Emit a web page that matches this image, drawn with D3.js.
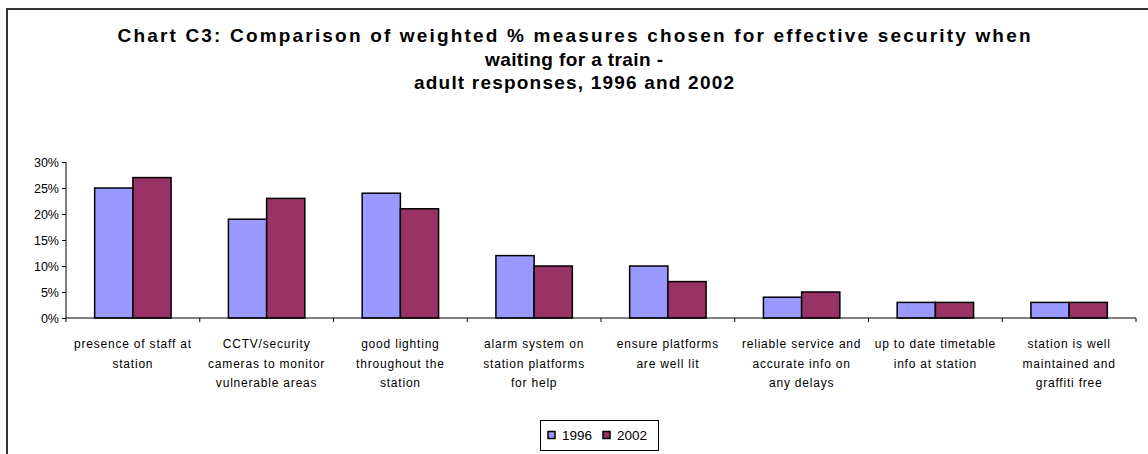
<!DOCTYPE html>
<html><head><meta charset="utf-8">
<script src="https://cdn.jsdelivr.net/npm/d3@7"></script>
<style>body{margin:0;background:#fff}svg{display:block}</style>
</head><body>
<svg id="c" width="1148" height="454"></svg>
<script>
const categories = [
  ["presence of staff at", "station"],
  ["CCTV/security", "cameras to monitor", "vulnerable areas"],
  ["good lighting", "throughout the", "station"],
  ["alarm system on", "station platforms", "for help"],
  ["ensure platforms", "are well lit"],
  ["reliable service and", "accurate info on", "any delays"],
  ["up to date timetable", "info at station"],
  ["station is well", "maintained and", "graffiti free"]
];
const seriesNames = ["1996", "2002"];
const values1996 = [25, 19, 24, 12, 10, 4, 3, 3];
const values2002 = [27, 23, 21, 10, 7, 5, 3, 3];
const yTicks = [0, 5, 10, 15, 20, 25, 30];
const titleLines = [
  "Chart C3: Comparison of weighted % measures chosen for effective security when",
  "waiting for a train -",
  "adult responses, 1996 and 2002"
];
const titleWidths = [913, 178, 320];
const colors = ["#9999FF", "#993366"];

const svg = d3.select("#c");
const font = "Liberation Sans, Arial, sans-serif";

// outer frame (top & left visible)
svg.append("path").attr("d", "M7,1148 V9 H1148").attr("fill","none").attr("stroke","#333").attr("stroke-width",2);

// title
svg.append("g").selectAll("text").data(titleLines).join("text")
  .attr("x", 574).attr("y", (d,i)=>42 + i*23.5)
  .attr("text-anchor","middle").attr("font-family",font).attr("font-weight","bold")
  .attr("font-size","19px").attr("fill","#000")
  .attr("textLength",(d,i)=>titleWidths[i]).attr("lengthAdjust","spacing")
  .text(d=>d);

const x0 = d3.scaleBand().domain(d3.range(categories.length)).range([66, 1136]).paddingInner(0.4286).paddingOuter(0.2143);
const x1 = d3.scaleBand().domain([0,1]).range([0, x0.bandwidth()]);
const y = d3.scaleLinear().domain([0, 30]).range([318, 162]);

// y axis
const yAxis = d3.axisLeft(y).tickValues(yTicks).tickSize(4).tickFormat(d=>d+"%");
const gy = svg.append("g").attr("transform","translate(66,0)").call(yAxis);
gy.select(".domain").attr("stroke","#000").attr("d","M0,162V318");
gy.selectAll(".tick line").attr("stroke","#000");
gy.selectAll(".tick text").attr("font-family",font).attr("font-size","12.5px").attr("fill","#000").attr("x",-7);

// bars
const data = categories.map((c,i)=>[values1996[i], values2002[i]]);
const g = svg.append("g");
data.forEach((vals,i)=>{
  g.selectAll(null).data(vals).join("rect")
    .attr("x",(d,j)=>x0(i)+x1(j)).attr("width",x1.bandwidth())
    .attr("y",d=>y(d)).attr("height",d=>y(0)-y(d))
    .attr("fill",(d,j)=>colors[j]).attr("stroke","#000").attr("stroke-width",1.5);
});

// x axis
const xb = d3.scaleLinear().domain([0, categories.length]).range([66, 1136]);
const gx = svg.append("g").attr("transform","translate(0,318)");
gx.append("line").attr("x1",66).attr("x2",1136).attr("stroke","#000");
gx.selectAll("line.t").data(d3.range(categories.length+1)).join("line").attr("class","t")
  .attr("x1",d=>xb(d)).attr("x2",d=>xb(d)).attr("y1",0).attr("y2",4).attr("stroke","#000");

// category labels
categories.forEach((lines,i)=>{
  const cx = x0(i) + x0.bandwidth()/2;
  svg.append("g").selectAll("text").data(lines).join("text")
    .attr("x",cx).attr("y",(d,k)=>348 + k*19.5)
    .attr("text-anchor","middle").attr("font-family",font).attr("font-size","12px")
    .attr("letter-spacing","0.8px").attr("fill","#000")
    .text(d=>d);
});

// legend
const lg = svg.append("g");
lg.append("rect").attr("x",540.5).attr("y",420.5).attr("width",118).attr("height",30)
  .attr("fill","#fff").attr("stroke","#000").attr("stroke-width",1);
const lx = [548, 603];
seriesNames.forEach((s,i)=>{
  lg.append("rect").attr("x",lx[i]).attr("y",431.5).attr("width",7).attr("height",7)
    .attr("fill",colors[i]).attr("stroke","#000").attr("stroke-width",1.5);
  lg.append("text").attr("x",lx[i]+14).attr("y",440).attr("font-family",font).attr("font-size","13.5px").attr("fill","#000").text(s);
});
</script>
</body></html>
